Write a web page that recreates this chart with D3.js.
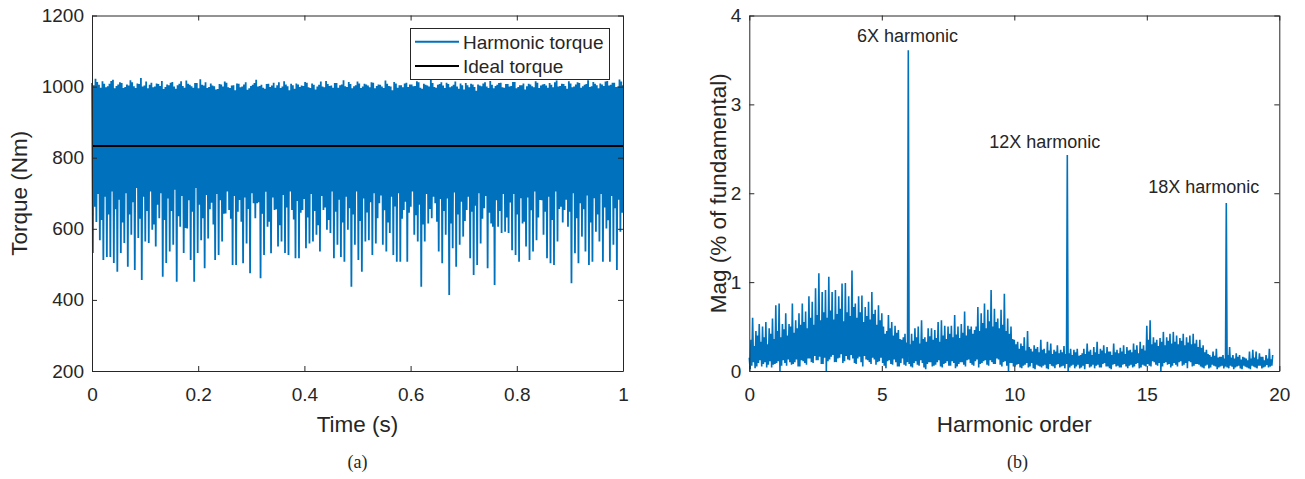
<!DOCTYPE html>
<html>
<head>
<meta charset="utf-8">
<script src="https://cdn.jsdelivr.net/npm/d3@7/dist/d3.min.js"></script>
<style>
  html, body { margin: 0; padding: 0; background: #fff; }
  svg { display: block; }
  text { font-family: "Liberation Sans", Arial, Helvetica, sans-serif; fill: #262626; }
</style>
</head>
<body>
<svg id="chart" width="1305" height="479"></svg>
<script>
// ---------------- DATA ----------------
// (a) Torque ripple, sampled as a repeating pattern per cycle k:
//     peak (torqueHigh) -> deep trough (torqueLow) -> peak (torqueHigh2) -> shallow trough (torqueShallow)
const torqueHigh = [
1010,1022,1005,1015,998,1008,1019,1002,1012,996,
1006,1018,1001,1009,1024,1003,995,1011,1000,1007,
1016,999,1004,1013,994,1008,1002,1017,1005,997,
1010,1021,1003,996,1009,1001,993,1006,1014,998,
1003,990,1008,1000,1012,995,1005,1019,1002,997,
1007,999,1011,1004,996,1015,1001,1008,994,1006,
1003,1013,998,1009,992,1005,1000,1016,1002,997,
1010,1004,1018,999,1007,1001,1014,996,1008,1003,
1012,995,1006,1000,1017,1002,990,1009,1004,998,
1011,1006,1001,1015,997,1008,1003,1019,999,1005,
1012,996,1007,1001,1014,994,1004,1010,998,1006,
988,1003,1009,1000,1016,995,1005,1011,997,1007,
1002,1013,999,1004,992,1008,1001,1015,996,1006,
1003,1010,998,1017,1002,1007,994,1009,1000,1012,
997,1005,1018,1001,1008,995,1006,1014,1003,1011,
999,1020,1004
];
const torqueLow = [
532,619,568,512,521,521,504,479,532,560,
493,583,484,574,456,564,560,597,550,630,
465,504,536,555,451,606,532,601,512,451,
532,568,489,573,673,512,526,564,643,653,
498,498,681,503,559,475,672,672,461,526,
606,531,653,550,564,532,526,653,517,517,
653,545,559,564,583,536,653,597,588,517,
555,521,507,597,437,555,512,479,564,568,
526,559,672,555,536,588,526,507,507,653,
507,662,583,564,437,564,615,630,672,536,
503,583,414,545,493,555,578,653,517,470,
498,559,658,489,615,442,606,588,592,588,
540,526,507,615,550,512,536,568,681,583,
517,503,498,564,662,653,606,447,531,503,
578,536,498,507,592,564,507,601,507,555,
484,592
];
const torqueHigh2 = [
1004,1013,997,1008,1001,1016,995,1006,1010,999,
1003,1012,996,1007,1000,1014,1005,998,1009,1002,
993,1006,1011,1000,1004,1015,997,1008,1001,1010,
995,1005,1012,999,1003,992,1007,1000,1011,996,
1004,1009,998,1006,991,1002,1010,1000,1005,994,
1008,1003,997,1012,1000,1006,990,1004,1009,999,
1002,1011,996,1005,1000,1014,998,1007,1003,1010,
997,1006,1001,1013,995,1004,1009,1000,1006,998,
1011,1002,1005,996,1008,1000,1013,997,1004,1009,
999,1006,1002,1012,994,1005,1000,1010,997,1007,
1003,1011,998,1005,1000,1009,992,1004,1008,999,
1006,1001,1012,996,1005,1002,1010,998,1007,1000,
1013,995,1004,1009,1001,1006,998,1011,1003,1007,
997,1005,1012,1000,1008,1002,1015,998,1006,1010,
1001,1007,999,1013,1004,1009,1002,1016,1005,1011,
1000,1014
];
const torqueShallow = [
662,698,625,690,640,705,655,682,618,700,
640,675,715,628,690,650,705,612,668,700,
625,685,650,710,635,692,602,680,648,715,
668,630,695,655,612,698,680,642,705,628,
692,648,620,688,656,700,630,675,642,704,
620,688,655,610,695,660,705,626,678,645,
684,632,698,650,610,692,660,625,705,648,
682,618,690,658,640,705,622,685,646,675,
700,630,694,652,618,690,663,700,628,676,
645,705,638,668,612,698,656,690,620,684,
650,685,615,702,640,676,622,690,648,665,
700,628,692,645,606,680,650,698,632,674,
698,640,686,620,688,652,705,632,680,648,
690,625,705,656,618,682,648,700,630,672,
655,694,618,686,640,698,660,624,692,658,
682,645
];
const idealTorque = 833;
const timeRange = [0, 1];
const timeTicks = [0, 0.2, 0.4, 0.6, 0.8, 1];
const timeTickLabels = ["0", "0.2", "0.4", "0.6", "0.8", "1"];
const torqueTicks = [200, 400, 600, 800, 1000, 1200];
const torqueTickLabels = ["200", "400", "600", "800", "1000", "1200"];
const legendLabels = ["Harmonic torque", "Ideal torque"];

// (b) Spectrum, per order step of 0.125 the pattern is:
//     peak (magHigh) -> trough (magLow) -> core peak (magCore) -> core trough (magCoreLow)
const orderStep = 0.125;
const magHigh = [
0.15,0.60,0.45,0.53,0.50,0.55,0.48,0.59,
0.74,0.76,0.53,0.65,0.53,0.76,0.57,0.65,
0.76,0.67,0.84,0.78,0.93,1.10,0.89,0.91,
1.06,0.89,0.91,0.84,0.985,0.99,0.84,1.13,
0.76,0.84,0.85,0.72,0.78,0.89,0.69,0.74,
0.65,0.42,0.63,0.55,0.51,0.46,0.35,0.42,
3.61,0.42,0.48,0.50,0.57,0.38,0.48,0.48,
0.46,0.55,0.57,0.51,0.50,0.51,0.63,0.50,
0.53,0.67,0.51,0.50,0.46,0.72,0.65,0.76,
0.69,0.91,0.70,0.59,0.69,0.87,0.59,0.50,
0.35,0.33,0.31,0.38,0.45,0.25,0.29,0.27,
0.35,0.25,0.33,0.31,0.24,0.29,0.24,0.28,
2.43,0.25,0.24,0.25,0.18,0.25,0.31,0.24,
0.27,0.33,0.25,0.29,0.27,0.22,0.31,0.24,
0.26,0.29,0.27,0.24,0.31,0.29,0.33,0.29,
0.51,0.57,0.38,0.35,0.37,0.44,0.38,0.42,
0.44,0.40,0.37,0.42,0.38,0.40,0.42,0.35,
0.35,0.29,0.24,0.18,0.22,0.25,0.16,0.18,
1.89,0.27,0.18,0.20,0.18,0.16,0.14,0.22,
0.24,0.22,0.20,0.16,0.18,0.25,0.18
];
const magLow = [
0.02,0.10,0.05,0.12,0.08,0.04,0.11,0.07,
0.09,0.00,0.12,0.06,0.10,0.08,0.13,0.05,
0.11,0.07,0.14,0.09,0.12,0.16,0.08,0.00,
0.13,0.18,0.10,0.15,0.09,0.17,0.12,0.14,
0.08,0.16,0.05,0.13,0.10,0.15,0.07,0.11,
0.09,0.03,0.12,0.07,0.10,0.05,0.14,0.06,
0.08,0.04,0.11,0.06,0.09,0.02,0.10,0.05,
0.07,0.12,0.04,0.09,0.06,0.11,0.03,0.08,
0.10,0.05,0.13,0.07,0.11,0.04,0.09,0.12,
0.06,0.10,0.08,0.13,0.05,0.11,0.00,0.09,
0.05,0.08,0.03,0.07,0.04,0.09,0.02,0.06,
0.04,0.07,0.02,0.06,0.03,0.08,0.05,0.03,
0.00,0.06,0.03,0.07,0.04,0.02,0.08,0.05,
0.03,0.07,0.04,0.09,0.05,0.02,0.08,0.06,
0.04,0.08,0.03,0.07,0.05,0.09,0.04,0.06,
0.08,0.05,0.10,0.06,0.00,0.09,0.07,0.04,
0.09,0.05,0.11,0.07,0.03,0.10,0.06,0.08,
0.05,0.03,0.07,0.04,0.06,0.02,0.05,0.03,
0.04,0.06,0.02,0.05,0.03,0.06,0.04,0.02,
0.05,0.03,0.06,0.04,0.07,0.05
];
const magCore = [
0.35,0.28,0.40,0.33,0.38,0.30,0.42,0.36,
0.45,0.38,0.47,0.40,0.50,0.43,0.48,0.52,
0.55,0.48,0.60,0.52,0.63,0.57,0.66,0.60,
0.68,0.58,0.64,0.70,0.56,0.66,0.62,0.72,
0.60,0.66,0.55,0.62,0.58,0.64,0.52,0.57,
0.50,0.45,0.48,0.40,0.43,0.36,0.38,0.32,
0.30,0.34,0.38,0.31,0.36,0.33,0.39,0.35,
0.37,0.33,0.40,0.36,0.42,0.38,0.41,0.37,
0.43,0.40,0.47,0.42,0.50,0.45,0.54,0.48,
0.56,0.50,0.55,0.48,0.52,0.45,0.42,0.36,
0.30,0.25,0.28,0.23,0.27,0.22,0.25,0.21,
0.24,0.20,0.23,0.19,0.22,0.20,0.21,0.19,
0.20,0.18,0.21,0.17,0.20,0.19,0.22,0.18,
0.21,0.19,0.23,0.20,0.22,0.18,0.21,0.20,
0.22,0.19,0.23,0.21,0.24,0.20,0.25,0.23,
0.35,0.30,0.32,0.28,0.33,0.29,0.34,0.31,
0.33,0.30,0.34,0.29,0.32,0.30,0.31,0.27,
0.26,0.21,0.19,0.16,0.17,0.15,0.16,0.14,
0.18,0.15,0.14,0.16,0.13,0.15,0.12,0.14,
0.15,0.13,0.16,0.12,0.14,0.13
];
const magCoreLow = [
0.06,0.03,0.09,0.05,0.10,0.07,0.04,0.08,
0.11,0.06,0.09,0.13,0.07,0.10,0.05,0.12,
0.09,0.14,0.10,0.17,0.12,0.08,0.15,0.11,
0.16,0.10,0.14,0.19,0.11,0.13,0.18,0.09,
0.14,0.10,0.17,0.12,0.08,0.13,0.10,0.15,
0.06,0.11,0.08,0.13,0.05,0.09,0.07,0.10,
0.05,0.09,0.07,0.12,0.04,0.08,0.10,0.06,
0.10,0.05,0.08,0.11,0.06,0.09,0.05,0.10,
0.07,0.12,0.09,0.06,0.13,0.08,0.11,0.07,
0.12,0.08,0.14,0.07,0.10,0.06,0.09,0.05,
0.07,0.04,0.06,0.09,0.05,0.03,0.07,0.05,
0.06,0.03,0.08,0.05,0.07,0.04,0.06,0.08,
0.04,0.07,0.05,0.03,0.06,0.08,0.04,0.07,
0.06,0.04,0.08,0.05,0.03,0.07,0.05,0.04,
0.07,0.05,0.06,0.04,0.08,0.03,0.07,0.05,
0.06,0.11,0.07,0.09,0.05,0.10,0.08,0.06,
0.07,0.10,0.06,0.09,0.11,0.05,0.08,0.07,
0.04,0.06,0.03,0.07,0.05,0.04,0.06,0.05,
0.03,0.05,0.04,0.06,0.02,0.05,0.03,0.06,
0.04,0.06,0.03,0.05,0.04,0.06
];
const orderTicks = [0, 5, 10, 15, 20];
const magTicks = [0, 1, 2, 3, 4];
const annotLabels = ["6X harmonic", "12X harmonic", "18X harmonic"];
const annotOrder = [5.97, 11.15, 17.15];
const annotMag = [3.70, 2.51, 2.00];

// ---------------- LAYOUT ----------------
const svg = d3.select("#chart");
const blue = "#0072BD";
const axisColor = "#262626";
const tickFont = 19, titleFont = 22.5;

// interleave several sample arrays: arrays[j][k] sits at (k + j/n) * step
function buildSeries(arrays, step) {
  const n = arrays.length, pts = [];
  for (let k = 0; k < arrays[0].length; k++) {
    for (let j = 0; j < n; j++) {
      if (k < arrays[j].length) pts.push({ x: (k + j / n) * step, y: arrays[j][k] });
    }
  }
  return pts;
}

function drawAxes(g, xs, ys, xTicks, xLabels, yTicks, yLabels) {
  const [x0, x1] = xs.range();
  const [y0, y1] = ys.range();
  const bottom = d3.axisBottom(xs).tickValues(xTicks).tickFormat((d, i) => xLabels[i])
    .tickSizeInner(-5).tickSizeOuter(0).tickPadding(16.5);
  const top = d3.axisTop(xs).tickValues(xTicks).tickFormat("").tickSizeInner(-5).tickSizeOuter(0);
  const left = d3.axisLeft(ys).tickValues(yTicks).tickFormat((d, i) => yLabels[i])
    .tickSizeInner(-5).tickSizeOuter(0).tickPadding(8);
  const right = d3.axisRight(ys).tickValues(yTicks).tickFormat("").tickSizeInner(-5).tickSizeOuter(0);
  const gb = g.append("g").attr("transform", `translate(0,${y0})`).call(bottom);
  const gt = g.append("g").attr("transform", `translate(0,${y1})`).call(top);
  const gl = g.append("g").attr("transform", `translate(${x0},0)`).call(left);
  const gr = g.append("g").attr("transform", `translate(${x1},0)`).call(right);
  [gb, gt, gl, gr].forEach(a => {
    a.selectAll("path, line").attr("stroke", axisColor).attr("stroke-width", 1);
    a.selectAll("text").attr("fill", axisColor).style("font-size", tickFont + "px")
      .style("font-family", '"Liberation Sans", Arial, Helvetica, sans-serif');
  });
}

// ---------- Panel (a) ----------
const xA = d3.scaleLinear().domain(timeRange).range([92, 623]);
const yA = d3.scaleLinear().domain([200, 1200]).range([371, 15.5]);
const gA = svg.append("g");

const torqueSeries = buildSeries([torqueHigh, torqueLow, torqueHigh2, torqueShallow], 1);
const tMax = d3.max(torqueSeries, d => d.x);
torqueSeries.forEach(d => d.x = timeRange[0] + (timeRange[1] - timeRange[0]) * d.x / tMax);

gA.append("path").datum(torqueSeries)
  .attr("fill", "none").attr("stroke", blue).attr("stroke-width", 1.8)
  .attr("stroke-linejoin", "miter").attr("stroke-miterlimit", 2)
  .attr("d", d3.line().x(d => xA(d.x)).y(d => yA(d.y)));

gA.append("path").datum([{ x: timeRange[0], y: idealTorque }, { x: timeRange[1], y: idealTorque }])
  .attr("fill", "none").attr("stroke", "#000").attr("stroke-width", 2)
  .attr("d", d3.line().x(d => xA(d.x)).y(d => yA(d.y)));

drawAxes(gA, xA, yA, timeTicks, timeTickLabels, torqueTicks, torqueTickLabels);

gA.append("text").attr("x", (xA.range()[0] + xA.range()[1]) / 2).attr("y", 432)
  .attr("text-anchor", "middle").style("font-size", titleFont + "px").text("Time (s)");
gA.append("text").attr("transform", `translate(27,${(yA.range()[0] + yA.range()[1]) / 2}) rotate(-90)`)
  .attr("text-anchor", "middle").style("font-size", titleFont + "px").text("Torque (Nm)");

// legend
const leg = gA.append("g");
leg.append("rect").attr("x", 410.5).attr("y", 28.5).attr("width", 199).attr("height", 51)
  .attr("fill", "#fff").attr("stroke", axisColor).attr("stroke-width", 1);
const legColors = [blue, "#000"];
legendLabels.forEach((lab, i) => {
  const cy = 41.7 + i * 24.3;
  leg.append("line").attr("x1", 415).attr("x2", 459).attr("y1", cy).attr("y2", cy)
    .attr("stroke", legColors[i]).attr("stroke-width", 2);
  leg.append("text").attr("x", 463).attr("y", cy + 7).style("font-size", tickFont + "px")
    .attr("fill", "#000").text(lab);
});

svg.append("text").attr("x", 357.5).attr("y", 468).attr("text-anchor", "middle")
  .style("font-family", '"Liberation Serif", "Times New Roman", serif').style("font-size", "18px")
  .attr("fill", "#000").text("(a)");

// ---------- Panel (b) ----------
const xB = d3.scaleLinear().domain([0, 20]).range([749.3, 1279.3]);
const yB = d3.scaleLinear().domain([0, 4]).range([371, 15.5]);
const gB = svg.append("g");

const specSeries = buildSeries([magHigh, magLow, magCore, magCoreLow], orderStep);
gB.append("path").datum(specSeries)
  .attr("fill", "none").attr("stroke", blue).attr("stroke-width", 1.6)
  .attr("stroke-linejoin", "miter").attr("stroke-miterlimit", 2)
  .attr("d", d3.line().x(d => xB(d.x)).y(d => yB(d.y)));

drawAxes(gB, xB, yB, orderTicks, orderTicks.map(String), magTicks, magTicks.map(String));

gB.append("text").attr("x", (xB.range()[0] + xB.range()[1]) / 2).attr("y", 432)
  .attr("text-anchor", "middle").style("font-size", titleFont + "px").text("Harmonic order");
gB.append("text").attr("transform", `translate(726,${(yB.range()[0] + yB.range()[1]) / 2}) rotate(-90)`)
  .attr("text-anchor", "middle").style("font-size", titleFont + "px").text("Mag (% of fundamental)");

annotLabels.forEach((lab, i) => {
  gB.append("text").attr("x", xB(annotOrder[i])).attr("y", yB(annotMag[i]))
    .attr("text-anchor", "middle").style("font-size", "18px").attr("fill", "#000").text(lab);
});

svg.append("text").attr("x", 1017.5).attr("y", 468).attr("text-anchor", "middle")
  .style("font-family", '"Liberation Serif", "Times New Roman", serif').style("font-size", "18px")
  .attr("fill", "#000").text("(b)");
</script>
</body>
</html>
